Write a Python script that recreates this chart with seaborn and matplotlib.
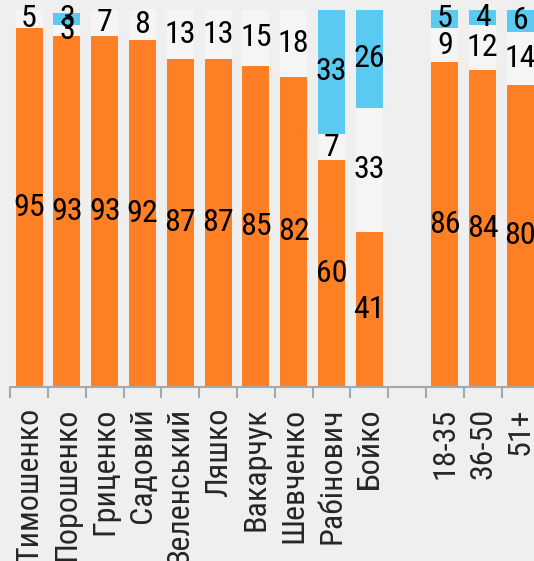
import matplotlib
matplotlib.use("Agg")
import matplotlib.pyplot as plt
import seaborn as sns
import numpy as np
import pandas as pd

categories = ["Тимошенко", "Порошенко", "Гриценко", "Садовий", "Зеленський",
              "Ляшко", "Вакарчук", "Шевченко", "Рабінович", "Бойко",
              " ", "18-35", "36-50", "51+"]
orange_vals = [95, 93, 93, 92, 87, 87, 85, 82, 60, 41, np.nan, 86, 84, 80]
gray_vals   = [5, 3, 7, 8, 13, 13, 15, 18, 7, 33, np.nan, 9, 12, 14]
blue_vals   = [0, 3, 0, 0, 0, 0, 0, 0, 33, 26, np.nan, 5, 4, 6]

ORANGE = "#ff8024"
GRAY = "#f5f5f5"
BLUE = "#5bcaf2"
BG = "#efefef"

sns.set_theme(style="white")
plt.rcParams["font.family"] = ["Roboto Condensed", "PT Sans Narrow", "Liberation Sans", "DejaVu Sans"]

df = pd.DataFrame({"cat": categories, "o": orange_vals, "g": gray_vals, "b": blue_vals})
df["og"] = df["o"] + df["g"]
df["ogb"] = df["og"] + df["b"]
data = df.dropna()

fig = plt.figure(figsize=(5.34, 5.61), dpi=100)
fig.patch.set_facecolor(BG)
ax = fig.add_axes([10.2 / 534, (561 - 386.5) / 561, 529.2 / 534, 377 / 561])
ax.set_facecolor(BG)

W = 0.71
sns.barplot(data=data, x="cat", y="ogb", order=categories, color=BLUE, width=W,
            saturation=1, ax=ax, linewidth=0)
sns.barplot(data=data, x="cat", y="og", order=categories, color=GRAY, width=W,
            saturation=1, ax=ax, linewidth=0)
sns.barplot(data=data, x="cat", y="o", order=categories, color=ORANGE, width=W,
            saturation=1, ax=ax, linewidth=0)

fs = 23
for i, row in df.iterrows():
    if pd.isna(row["o"]):
        continue
    segs = [(0, row["o"]), (row["o"], row["g"]), (row["og"], row["b"])]
    for start, v in segs:
        if v > 0:
            ax.text(i, start + v / 2, f"{int(v)}", ha="center", va="center",
                    fontsize=fs, color="black", clip_on=False)

ax.set_xlim(-0.5, 13.5)
ax.set_ylim(0, 100)
ax.set_xlabel("")
ax.set_ylabel("")
ax.set_yticks([])
for s in ["top", "right", "left"]:
    ax.spines[s].set_visible(False)
ax.spines["bottom"].set_color("#a8a8a8")
ax.spines["bottom"].set_linewidth(1.5)

ax.set_xticks(range(len(categories)))
ax.set_xticklabels(categories, rotation=90, fontsize=fs)
ax.tick_params(axis="x", which="major", length=0, pad=15)
ax.set_xticks(np.arange(-0.5, 14.0, 1.0), minor=True)
ax.tick_params(axis="x", which="minor", length=8, width=1.5, color="#a8a8a8", bottom=True)

fig.savefig("out.png", dpi=100, facecolor=BG)
